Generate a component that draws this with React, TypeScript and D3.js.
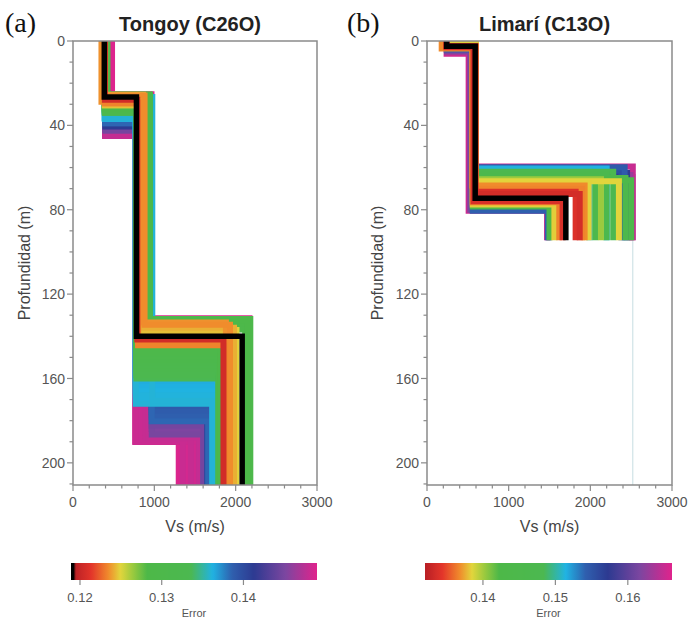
import React from 'react';
import * as d3 from 'd3';

// ---------- shared palette (normalized error position -> colour) ----------
const paletteT = [0, 0.07, 0.14, 0.19, 0.24, 0.3, 0.48, 0.57, 0.65, 0.74, 0.87, 1];
const paletteColors = ['#b81f25', '#e3352a', '#f08a2c', '#e2d53c', '#9cca3e', '#4db848', '#4cb850', '#20b3e3', '#2f5fae', '#2d3a91', '#7c46a0', '#e0238c'];

const depthTicks = [0, 40, 80, 120, 160, 200];
const vsTicks = [0, 1000, 2000, 3000];
const depthDomain = [0, 210.5];
const vsDomain = [0, 3000];

// ---------- (a) Tongoy (C26O) ----------
const tongoyTitle = 'Tongoy (C26O)';
const tongoyErrors = [
  0.1489, 0.1488, 0.1487, 0.1486, 0.1485, 0.1484, 0.1484, 0.1483, 0.1483, 0.1482,
  0.1481, 0.1480, 0.1479,
  0.1452, 0.1450, 0.1448,
  0.1412,
  0.1390, 0.1388, 0.1386, 0.1384,
  0.1364, 0.1363, 0.1362, 0.1361, 0.1361, 0.1360, 0.1360,
  0.1336, 0.1332, 0.1328, 0.1324, 0.1320, 0.1316, 0.1312, 0.1308, 0.1304, 0.1300, 0.1298, 0.1302, 0.1290, 0.1296, 0.1294,
  0.1249, 0.1245, 0.1242, 0.1236, 0.1235, 0.1234, 0.1233, 0.1205,
];
const tongoyVs = [
  [480, 965, 2170], [400, 772, 1300], [400, 772, 1340], [400, 772, 1380], [400, 772, 1420], [400, 772, 1460],
  [400, 772, 1500], [400, 772, 1540], [400, 772, 1580], [400, 772, 1610],
  [400, 840, 1350], [400, 890, 1450], [400, 930, 1550],
  [400, 968, 1600], [400, 968, 1610], [400, 968, 1605],
  [398, 968, 1650],
  [395, 968, 1655], [395, 968, 1660], [395, 968, 1660], [395, 968, 1670],
  [392, 772, 1720], [392, 772, 1720], [392, 772, 1715], [392, 772, 1715], [392, 772, 1720], [392, 772, 1720], [392, 975, 1720],
  [392, 780, 1790], [392, 780, 1790], [392, 780, 1790], [392, 780, 1795], [392, 780, 1800], [392, 780, 1800],
  [392, 780, 1805], [392, 780, 1805], [392, 780, 1810], [392, 780, 1810], [392, 785, 1815], [420, 940, 2180], [420, 945, 2150], [420, 940, 2120], [420, 940, 2120],
  [392, 800, 2010], [392, 800, 1950], [395, 860, 1980], [350, 830, 1880], [392, 880, 1930], [392, 800, 1870], [392, 800, 1860], [392, 790, 1850],
];
const tongoyDepths = [
  [25.2, 131.5], [44.5, 190], [45, 190], [44, 190], [44.5, 190], [45, 190],
  [44.5, 190], [44, 190], [45, 190], [44.5, 190],
  [45, 189], [45, 188.5], [45, 188],
  [42, 184], [42.5, 186.5], [42, 182.3],
  [40.5, 168.5],
  [38.5, 173.8], [38.5, 175.8], [39, 178], [39, 180.3],
  [36, 162], [36.5, 164], [37, 166], [37, 168], [36.5, 170], [36.5, 172], [26.6, 170.5],
  [34, 160], [34, 158.5], [33.5, 157], [33.5, 155.5], [33, 154], [33, 152.5], [32.5, 151], [32.5, 149.5], [32, 148], [32, 146.5], [31.5, 145], [25.5, 131.8], [25.5, 132.5], [25.5, 134.2], [25.5, 136.8],
  [30.5, 137], [30.5, 138.6], [25.5, 136], [28.8, 133.5], [25.8, 134.5], [29.5, 143], [29.5, 144.2], [27.8, 141.5],
];
const tongoyBestVs = [385, 780, 2080];
const tongoyBestDepths = [26.6, 140];
const tongoyErrorRange = [0.1189, 0.149];
const tongoyBlackBelow = 0.1193;
const tongoyErrorTicks = [0.12, 0.13, 0.14];

// ---------- (b) Limarí (C13O) ----------
const limariTitle = 'Limarí (C13O)';
const limariErrors = [
  0.1652, 0.1650, 0.1648, 0.1630, 0.1617, 0.1575, 0.1555, 0.1545, 0.1542,
  0.1515, 0.1512,
  0.1480, 0.1470, 0.1460, 0.1450, 0.1445, 0.1430,
  0.1402, 0.1385, 0.1384, 0.1383,
  0.1368, 0.1366, 0.1365,
  0.1340, 0.1338, 0.1335,
];
const limariVs = [
  [240, 510, 1470], [250, 600, 2520], [250, 600, 2515], [250, 600, 2490], [245, 530, 1490], [250, 600, 2450], [250, 600, 2380], [250, 600, 2420], [240, 560, 1480],
  [250, 600, 2200], [250, 600, 1990],
  [250, 600, 2280], [250, 600, 2200], [250, 600, 2060], [250, 600, 2430], [250, 600, 2500], [240, 560, 1500],
  [250, 600, 2130], [250, 600, 2350], [250, 600, 1980], [240, 560, 1560],
  [180, 555, 1930], [230, 590, 1900], [240, 560, 1620],
  [240, 590, 1820], [240, 570, 1660], [240, 595, 1870],
];
const limariDepths = [
  [6, 80.5], [1.5, 59.5], [1.5, 64.5], [1.5, 63.5], [5, 80], [1.3, 62.5], [1.2, 61.5], [1.2, 59.8], [4, 80.5],
  [1, 60.5], [1, 61],
  [0.8, 62], [0.8, 63], [0.8, 64], [0.8, 65], [0.8, 66], [3, 78.5],
  [0.8, 65.5], [0.8, 66.5], [0.8, 67.5], [3, 77.5],
  [3.5, 68.5], [2.5, 70], [3, 76.5],
  [2.5, 71.5], [3, 76], [2.5, 72.5],
];
const limariBestVs = [240, 590, 1700];
const limariBestDepths = [2.5, 74.5];
const limariMaxDepth = 94.5;
const limariDeepVs = 2520;
const limariErrorRange = [0.132, 0.1661];
const limariErrorTicks = [0.14, 0.15, 0.16];

// ---------- helpers ----------
const palette = d3.scaleLinear<string>().domain(paletteT).range(paletteColors).interpolate(d3.interpolateRgb).clamp(true);

function stepPoints(vs: number[], z: number[], maxDepth: number): [number, number][] {
  const pts: [number, number][] = [[vs[0], 0]];
  for (let i = 0; i < z.length && i + 1 < vs.length; i++) {
    pts.push([vs[i], z[i]]);
    pts.push([vs[i + 1], z[i]]);
  }
  pts.push([vs[vs.length - 1], maxDepth]);
  return pts;
}

const PLOT_TOP = 41;
const PLOT_BOTTOM = 485;
const CB_TOP = 563;
const CB_BOTTOM = 580;
const AXIS = '#8a8a8a';
const TXT = '#555';
const SANS = 'Liberation Sans, Arial, Helvetica, sans-serif';

interface PanelProps {
  id: string;
  letter: string;
  letterX: number;
  title: string;
  x0: number;
  x1: number;
  errors: number[];
  vs: number[][];
  depths: number[][];
  bestVs: number[];
  bestDepths: number[];
  maxDepth: number;
  errRange: number[];
  blackBelow: number | null;
  errTicks: number[];
  cb0: number;
  cb1: number;
  yLabelX: number;
  deepVs?: number;
}

function Panel(p: PanelProps) {
  const x = d3.scaleLinear().domain(vsDomain).range([p.x0, p.x1]);
  const y = d3.scaleLinear().domain(depthDomain).range([PLOT_TOP, PLOT_BOTTOM]);
  const colorLo = p.blackBelow ?? p.errRange[0];
  const colorOf = (e: number) => {
    if (p.blackBelow !== null && e < p.blackBelow) return '#000';
    return palette((e - colorLo) / (p.errRange[1] - colorLo));
  };
  const line = d3.line<[number, number]>().x(d => x(d[0])).y(d => y(d[1]));
  const n = Math.min(p.errors.length, p.vs.length, p.depths.length);
  const order = d3.range(n).sort((a, b) => p.errors[b] - p.errors[a]);
  const minorDepth = d3.range(0, 211, 10);
  const minorVs = d3.range(0, 3001, 200);
  const cbx = d3.scaleLinear().domain(p.errRange).range([p.cb0, p.cb1]);
  const gradSamples = d3.range(0, 101).map(i => i / 100);
  const midX = (p.x0 + p.x1) / 2;
  const midY = (PLOT_TOP + PLOT_BOTTOM) / 2;
  return (
    <g>
      <defs>
        <clipPath id={`clip-${p.id}`}>
          <rect x={p.x0} y={PLOT_TOP} width={p.x1 - p.x0} height={PLOT_BOTTOM - PLOT_TOP} />
        </clipPath>
        <linearGradient id={`grad-${p.id}`} x1="0" x2="1" y1="0" y2="0">
          {gradSamples.map(s => {
            const e = p.errRange[0] + s * (p.errRange[1] - p.errRange[0]);
            return <stop key={s} offset={s} stopColor={colorOf(e)} />;
          })}
        </linearGradient>
      </defs>
      <text x={p.letterX} y={32} fontFamily="Liberation Serif, Times New Roman, serif" fontSize={28} fill="#111">{p.letter}</text>
      <text x={midX - 5} y={31} textAnchor="middle" fontFamily={SANS} fontWeight="bold" fontSize={20} fill="#222">{p.title}</text>
      <g clipPath={`url(#clip-${p.id})`}>
        {p.deepVs !== undefined && (
          <line x1={x(p.deepVs)} x2={x(p.deepVs)} y1={y(p.maxDepth)} y2={y(depthDomain[1])} stroke="#c6dde2" strokeWidth={1} />
        )}
        {order.map(i => (
          <path key={i} d={line(stepPoints(p.vs[i], p.depths[i], p.maxDepth)) || ''} fill="none"
            stroke={colorOf(p.errors[i])} strokeWidth={6} strokeLinejoin="miter" strokeLinecap="butt" />
        ))}
        <path d={line(stepPoints(p.bestVs, p.bestDepths, p.maxDepth)) || ''} fill="none" stroke="#000" strokeWidth={5.5} strokeLinejoin="miter" />
      </g>
      <rect x={p.x0} y={PLOT_TOP} width={p.x1 - p.x0} height={PLOT_BOTTOM - PLOT_TOP} fill="none" stroke={AXIS} strokeWidth={1.5} />
      {minorDepth.map(d => (
        <line key={`md${d}`} x1={p.x0} x2={p.x0 - (d % 40 === 0 ? 6 : 3.5)} y1={y(d)} y2={y(d)} stroke={AXIS} strokeWidth={1.2} />
      ))}
      {minorVs.map(v => (
        <line key={`mv${v}`} x1={x(v)} x2={x(v)} y1={PLOT_BOTTOM} y2={PLOT_BOTTOM + (v % 1000 === 0 ? 6 : 3.5)} stroke={AXIS} strokeWidth={1.2} />
      ))}
      {depthTicks.map(d => (
        <text key={`dt${d}`} x={p.x0 - 8} y={y(d)} dy="0.36em" textAnchor="end" fontFamily={SANS} fontSize={14} fill={TXT}>{d}</text>
      ))}
      {vsTicks.map(v => (
        <text key={`vt${v}`} x={x(v)} y={507} textAnchor="middle" fontFamily={SANS} fontSize={14} fill={TXT}>{v}</text>
      ))}
      <text x={midX} y={532} textAnchor="middle" fontFamily={SANS} fontSize={16} fill="#444">Vs (m/s)</text>
      <text transform={`translate(${p.yLabelX},${midY}) rotate(-90)`} textAnchor="middle" fontFamily={SANS} fontSize={16} fill="#444">Profundidad (m)</text>
      <rect x={p.cb0} y={CB_TOP} width={p.cb1 - p.cb0} height={CB_BOTTOM - CB_TOP} fill={`url(#grad-${p.id})`} />
      {p.errTicks.map(t => (
        <g key={`et${t}`}>
          <line x1={cbx(t)} x2={cbx(t)} y1={CB_BOTTOM} y2={CB_BOTTOM + 5} stroke={AXIS} strokeWidth={1.2} />
          <text x={cbx(t)} y={602} textAnchor="middle" fontFamily={SANS} fontSize={13} fill={TXT}>{t.toFixed(2)}</text>
        </g>
      ))}
      <text x={(p.cb0 + p.cb1) / 2} y={617} textAnchor="middle" fontFamily={SANS} fontSize={11} fill={TXT}>Error</text>
    </g>
  );
}

export default function App() {
  return (
    <svg width={693} height={622} style={{ display: 'block', position: 'absolute', left: 0, top: 0, background: '#fff' }}>
      <rect x={0} y={0} width={693} height={622} fill="#fff" />
      <Panel id="a" letter="(a)" letterX={5} title={tongoyTitle} x0={73} x1={317}
        errors={tongoyErrors} vs={tongoyVs} depths={tongoyDepths}
        bestVs={tongoyBestVs} bestDepths={tongoyBestDepths} maxDepth={depthDomain[1]}
        errRange={tongoyErrorRange} blackBelow={tongoyBlackBelow} errTicks={tongoyErrorTicks}
        cb0={71} cb1={317} yLabelX={30} />
      <Panel id="b" letter="(b)" letterX={347} title={limariTitle} x0={427} x1={672}
        errors={limariErrors} vs={limariVs} depths={limariDepths}
        bestVs={limariBestVs} bestDepths={limariBestDepths} maxDepth={limariMaxDepth}
        errRange={limariErrorRange} blackBelow={null} errTicks={limariErrorTicks}
        cb0={425} cb1={672} yLabelX={383} deepVs={limariDeepVs} />
    </svg>
  );
}
